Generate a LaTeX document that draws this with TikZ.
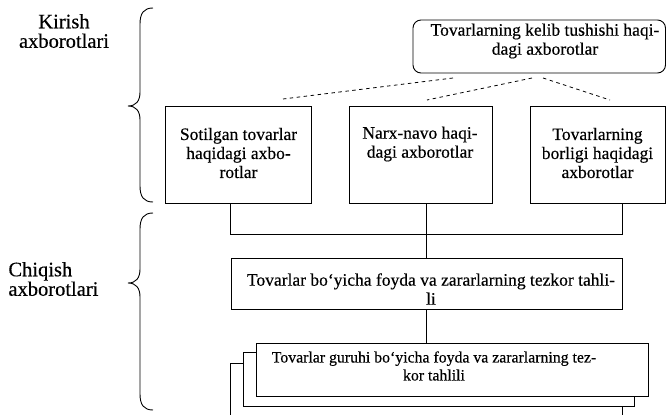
\documentclass[tikz,border=0pt]{standalone}
\usepackage{fontspec}
\setmainfont{Liberation Serif}[FakeBold=0.35]
\begin{document}
\begin{tikzpicture}[x=1pt,y=-1pt,line width=0.9pt,
  box/.style={draw,rectangle,inner sep=0pt,fill=white},
  txt/.style={align=center,font=\fontsize{17.5}{19}\selectfont,inner sep=0pt},
  smalltxt/.style={align=center,font=\fontsize{15.8}{18}\selectfont,inner sep=0pt},
  side/.style={font=\fontsize{20.5}{19.5}\selectfont,inner sep=0pt},
  dashline/.style={dash pattern=on 3.5pt off 3.5pt,line width=0.8pt},
  brace/.style={line width=0.9pt}]
\useasboundingbox (0,0) rectangle (667,415);
% boxes
\node[box,rounded corners=8pt,minimum width=252.5pt,minimum height=53pt] (top) at (539.25,46.5) {};
\node[box,minimum width=146pt,minimum height=97pt] (s1) at (238,154.5) {};
\node[box,minimum width=143pt,minimum height=97pt] (s2) at (420.5,154.5) {};
\node[box,minimum width=135.5pt,minimum height=97pt] (s3) at (597.75,154.5) {};
\node[box,minimum width=391pt,minimum height=51pt] (mid) at (426.5,283.5) {};
\node[box,minimum width=392pt,minimum height=57pt] (g3) at (426,391.5) {};
\node[box,minimum width=391pt,minimum height=54pt] (g2) at (438.5,379) {};
\node[box,minimum width=392pt,minimum height=53pt] (g1) at (452,369.5) {};
% texts
\node[txt] (ttop) at (545,41) {Tovarlarning kelib tushishi haqi-\\dagi axborotlar};
\node[txt] (ts1) at (238.5,153) {Sotilgan tovarlar\\haqidagi axbo-\\rotlar};
\node[txt] (ts2) at (420,144) {Narx-navo haqi-\\dagi axborotlar};
\node[txt] (ts3) at (597.5,153) {Tovarlarning\\borligi haqidagi\\axborotlar};
\node[txt] (tmid) at (431,289) {Tovarlar bo‘yicha foyda va zararlarning tezkor tahli-\\li};
\node[smalltxt] (tg1) at (434,366) {Tovarlar guruhi bo‘yicha foyda va zararlarning tez-\\kor tahlili};
\node[side,align=center] (kir) at (64,31) {Kirish\\axborotlari};
\node[side,align=left,anchor=west] (chq) at (8,279) {Chiqish\\axborotlari};
% dashed connectors
\coordinate (d1a) at (453,78); \coordinate (d1b) at (283,99);
\coordinate (d2a) at (532,78); \coordinate (d2b) at (427,100);
\coordinate (d3a) at (543,78); \coordinate (d3b) at (610,100);
\draw[dashline] (d1a) -- (d1b);
\draw[dashline] (d2a) -- (d2b);
\draw[dashline] (d3a) -- (d3b);
% solid connectors
\coordinate (j1) at (230,234);
\coordinate (j2) at (426,234);
\coordinate (j3) at (622,234);
\draw (j1 |- s1.south) -- (j1) -- (j3) -- (j3 |- s3.south);
\draw (j2 |- s2.south) -- (j2 |- mid.north);
\draw (mid.south) -- (mid.south |- g1.north);
% braces
\draw[brace] (153,8) .. controls (144,8) and (140,13) .. (140,24) -- (140,92)
  .. controls (140,101) and (136,106) .. (128,106)
  .. controls (136,106) and (140,111) .. (140,120) -- (140,186)
  .. controls (140,197) and (144,202) .. (153,202);
\draw[brace] (153,213) .. controls (144,213) and (140,218) .. (140,229) -- (140,269)
  .. controls (140,278) and (136,283) .. (128,283)
  .. controls (136,283) and (140,288) .. (140,297) -- (140,394)
  .. controls (140,405) and (144,410) .. (153,410);
\end{tikzpicture}
\end{document}
